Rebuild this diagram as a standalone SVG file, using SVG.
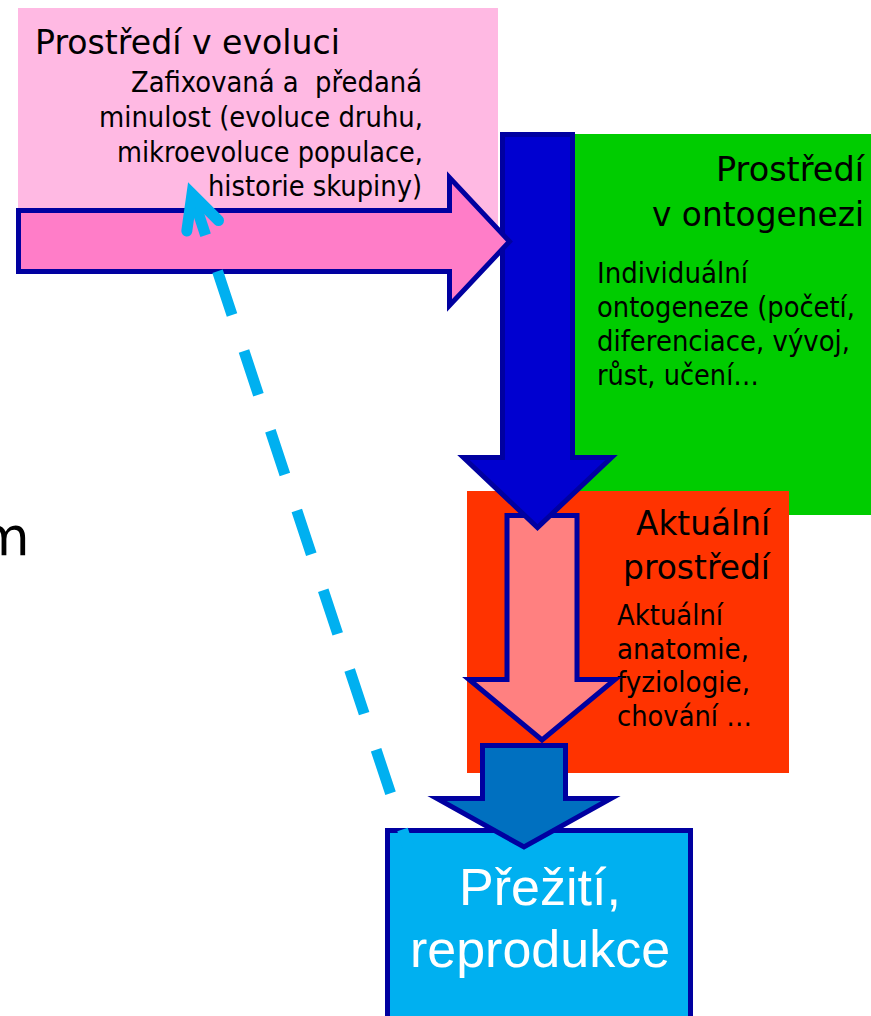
<svg xmlns="http://www.w3.org/2000/svg" width="871" height="1016" viewBox="0 0 871 1016">
  <style>
    .t { font-family: "DejaVu Sans", Verdana, sans-serif; fill: #000; }
    .title { font-size: 34px; }
    .body { font-size: 27.5px; }
    .big { font-family: "Liberation Sans", Arial, sans-serif; font-size: 52px; fill: #fff; text-anchor: middle; }
    .blk { stroke: #0000A0; stroke-width: 5; stroke-linejoin: miter; }
    .dash { stroke: #00B0F0; stroke-width: 11; fill: none; }
  </style>
  <rect width="871" height="1016" fill="#fff"/>

  <text class="t" x="-22" y="555" font-size="53">m</text>

  <g id="node-evoluce">
    <rect x="18" y="8" width="480" height="232" fill="#FFB9E3"/>
    <text class="t title" x="35" y="54" textLength="305" lengthAdjust="spacingAndGlyphs">Prostředí v evoluci</text>
    <g class="t body" text-anchor="end">
      <text x="422" y="92" style="white-space:pre" textLength="291" lengthAdjust="spacingAndGlyphs">Zafixovaná a  předaná</text>
      <text x="423" y="127" textLength="324" lengthAdjust="spacingAndGlyphs">minulost (evoluce druhu,</text>
      <text x="423" y="162" textLength="306" lengthAdjust="spacingAndGlyphs">mikroevoluce populace,</text>
      <text x="422" y="196" textLength="214" lengthAdjust="spacingAndGlyphs">historie skupiny)</text>
    </g>
  </g>

  <g id="node-ontogeneze">
    <rect x="575" y="134" width="296" height="381" fill="#00CC00"/>
    <g class="t title" text-anchor="end">
      <text x="864" y="181" textLength="148" lengthAdjust="spacingAndGlyphs">Prostředí</text>
      <text x="864" y="226" textLength="212" lengthAdjust="spacingAndGlyphs">v ontogenezi</text>
    </g>
    <g class="t body">
      <text x="597" y="283" textLength="151" lengthAdjust="spacingAndGlyphs">Individuální</text>
      <text x="597" y="317" textLength="258" lengthAdjust="spacingAndGlyphs">ontogeneze (početí,</text>
      <text x="597" y="351" textLength="253" lengthAdjust="spacingAndGlyphs">diferenciace, vývoj,</text>
      <text x="597" y="385" textLength="162" lengthAdjust="spacingAndGlyphs">růst, učení…</text>
    </g>
  </g>

  <g id="node-aktualni">
    <rect x="467" y="491" width="322" height="282" fill="#FF3300"/>
    <g class="t title" text-anchor="end">
      <text x="770" y="535" textLength="134" lengthAdjust="spacingAndGlyphs">Aktuální</text>
      <text x="770" y="579" textLength="147" lengthAdjust="spacingAndGlyphs">prostředí</text>
    </g>
    <g class="t body">
      <text x="617" y="625" textLength="106" lengthAdjust="spacingAndGlyphs">Aktuální</text>
      <text x="617" y="659" textLength="132" lengthAdjust="spacingAndGlyphs">anatomie,</text>
      <text x="617" y="692" textLength="133" lengthAdjust="spacingAndGlyphs">fyziologie,</text>
      <text x="617" y="726" textLength="135" lengthAdjust="spacingAndGlyphs">chování …</text>
    </g>
  </g>

  <g id="node-preziti">
    <rect x="387.5" y="830.5" width="303" height="200" fill="#00B0F0" stroke="#0000A0" stroke-width="5"/>
  </g>

  <g id="connectors">
    <polygon class="blk" fill="#FF8080" points="507,515.5 577,515.5 577,679.5 615,679.5 542,740 469,679.5 507,679.5"/>
    <polygon class="blk" fill="#0000D0" points="502.5,134.5 572.5,134.5 572.5,457.5 611.5,457.5 537.5,527.5 463.5,457.5 502.5,457.5"/>
    <polygon class="blk" fill="#FF7DC8" points="18.5,210.5 449.5,210.5 449.5,177.5 509.5,241.5 449.5,305.5 449.5,271.5 18.5,271.5"/>
    <polygon class="blk" fill="#0070C0" points="482.5,745.5 565.5,745.5 565.5,798.5 611,798.5 524,847 437,798.5 482.5,798.5"/>
    <line class="dash" x1="205.6" y1="235.2" x2="408" y2="846" stroke-dasharray="46 38" stroke-dashoffset="46"/>
    <line class="dash" x1="192" y1="194" x2="205.6" y2="235.2"/>
    <polyline class="dash" points="186.8,231 192,194 218.5,220.5" stroke-linecap="round" stroke-linejoin="miter"/>
  </g>

  <g id="label-preziti">
    <text class="big" x="540" y="905">Přežití,</text>
    <text class="big" x="540" y="967">reprodukce</text>
  </g>
</svg>
